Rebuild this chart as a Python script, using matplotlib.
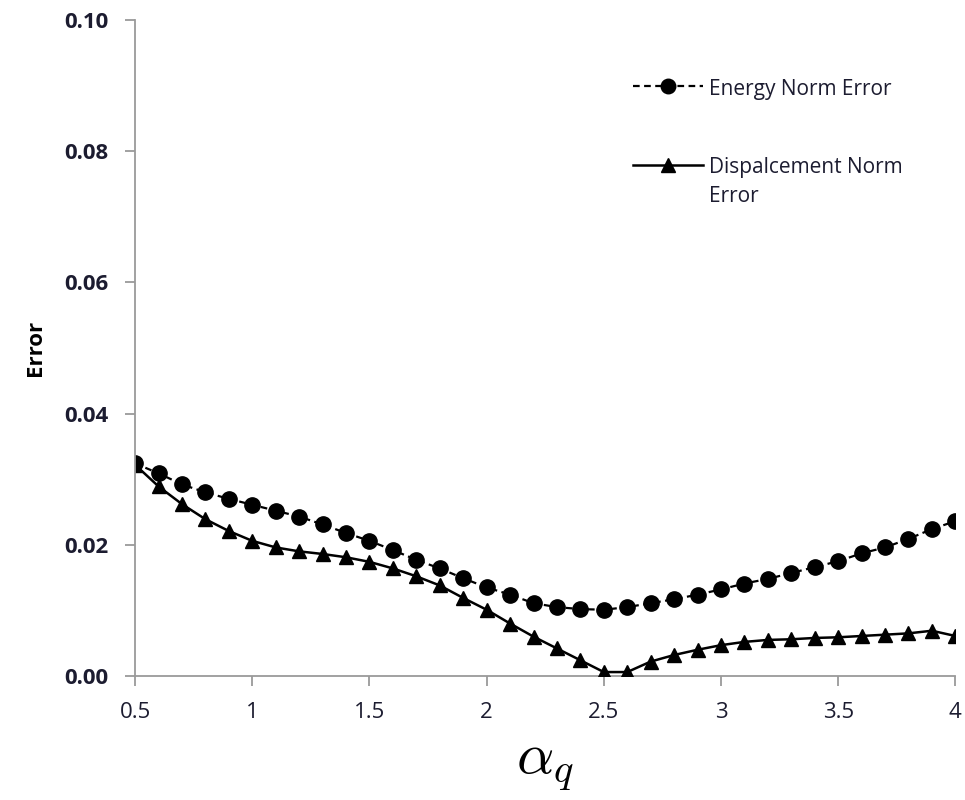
import matplotlib
matplotlib.use('Agg')
import matplotlib.pyplot as plt
import numpy as np

plt.rcParams['mathtext.fontset'] = 'cm'

# alpha_q values
alpha_q = [0.5, 0.6, 0.7, 0.8, 0.9, 1.0, 1.1, 1.2, 1.3, 1.4, 1.5, 1.6,
           1.7, 1.8, 1.9, 2.0, 2.1, 2.2, 2.3, 2.4, 2.5, 2.6, 2.7, 2.8,
           2.9, 3.0, 3.1, 3.2, 3.3, 3.4, 3.5, 3.6, 3.7, 3.8, 3.9, 4.0]

energy_err = [0.0324, 0.0309, 0.0292, 0.0280, 0.0270, 0.0261, 0.0252, 0.0243,
              0.0231, 0.0218, 0.0206, 0.0192, 0.0177, 0.0164, 0.0149, 0.0135,
              0.0124, 0.0111, 0.0105, 0.0102, 0.0101, 0.0105, 0.0111, 0.0117,
              0.0124, 0.0132, 0.0141, 0.0148, 0.0157, 0.0166, 0.0175, 0.0187,
              0.0196, 0.0209, 0.0224, 0.0236]

disp_err = [0.0322, 0.0289, 0.0262, 0.0239, 0.0221, 0.0206, 0.0196, 0.0190,
            0.0186, 0.0181, 0.0174, 0.0164, 0.0152, 0.0138, 0.0119, 0.0101,
            0.0080, 0.0060, 0.0042, 0.0024, 0.0006, 0.0006, 0.0022, 0.0032,
            0.0040, 0.0047, 0.0052, 0.0055, 0.0056, 0.0058, 0.0059, 0.0061,
            0.0063, 0.0065, 0.0069, 0.0061]

txt_col = '#1c1c30'
axis_col = '#9a9a9a'

fig = plt.figure(figsize=(9.65, 8), dpi=100)
ax = fig.add_axes([0.14, 0.155, 0.85, 0.82])

ax.plot(alpha_q, energy_err, color='black', linestyle=(0, (3, 2)), linewidth=1.6,
        marker='o', markersize=11, label='Energy Norm Error')
ax.plot(alpha_q, disp_err, color='black', linestyle='-', linewidth=1.8,
        marker='^', markersize=10, label='Dispalcement Norm\nError')

ax.set_xlim(0.5, 4)
ax.set_ylim(0, 0.10)
ax.set_xticks(np.arange(0.5, 4.01, 0.5))
ax.set_xticklabels(['0.5', '1', '1.5', '2', '2.5', '3', '3.5', '4'])
ax.set_yticks(np.arange(0, 0.101, 0.02))
ax.set_yticklabels(['%.2f' % v for v in np.arange(0, 0.101, 0.02)])

for s in ['top', 'right']:
    ax.spines[s].set_visible(False)
for s in ['left', 'bottom']:
    ax.spines[s].set_color(axis_col)
    ax.spines[s].set_linewidth(1.3)
ax.spines['bottom'].set_zorder(0)

ax.tick_params(axis='both', direction='out', length=7, width=1.3, color=axis_col)
ax.tick_params(axis='x', labelsize=16, labelcolor=txt_col, pad=12)
ax.tick_params(axis='y', labelsize=16, labelcolor=txt_col, pad=12)
for lab in ax.get_yticklabels():
    lab.set_fontweight('bold')
    lab.set_family('Open Sans')
for lab in ax.get_xticklabels():
    lab.set_family('Open Sans')

ax.set_ylabel('Error', fontsize=16, fontweight='bold', family='Open Sans',
              color='black', labelpad=13)
ax.set_xlabel(r'$\alpha_q$', fontsize=42, labelpad=10)

leg = ax.legend(loc='upper left', bbox_to_anchor=(0.607, 0.91), frameon=False,
                fontsize=15, handlelength=3.35, handletextpad=0.3,
                labelspacing=2.75, markerscale=0.95, borderpad=0,
                borderaxespad=0)
for t in leg.get_texts():
    t.set_color(txt_col)
    t.set_family('Open Sans')
    t.set_linespacing(1.45)
# keep each handle level with the first line of its label
for row in leg._legend_handle_box.get_children()[0].get_children():
    row.align = 'top'

fig.savefig('out.png', dpi=100)
